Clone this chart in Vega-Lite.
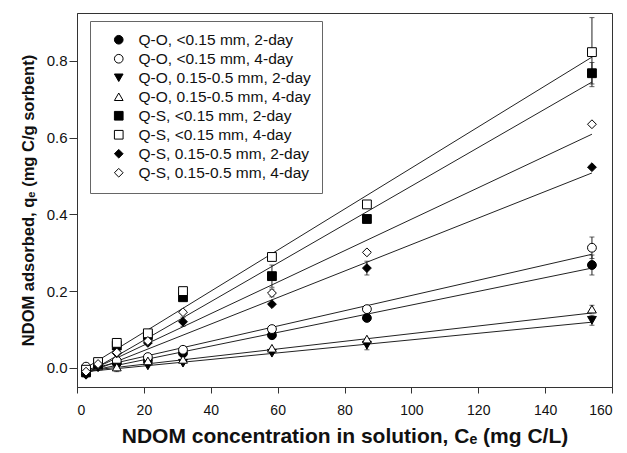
{
  "$schema": "https://vega.github.io/schema/vega-lite/v6.json",
  "width": 535,
  "height": 374,
  "autosize": {"type": "none"},
  "padding": {"left": 77, "top": 13, "right": 15, "bottom": 66},
  "background": "white",
  "config": {
    "view": {"stroke": "#333", "strokeWidth": 1},
    "font": "Liberation Sans",
    "axis": {
      "grid": false,
      "labelFont": "Liberation Sans",
      "labelColor": "#111",
      "tickColor": "#333",
      "domainColor": "#333",
      "titleFont": "Liberation Sans",
      "titleFontWeight": "bold",
      "titleColor": "#111"
    },
    "axisX": {"labelFontSize": 14, "tickSize": 6, "labelPadding": 10, "titleFontSize": 21, "titlePadding": 8},
    "axisY": {"labelFontSize": 15, "tickSize": 8, "labelPadding": 2, "titleFontSize": 16.5, "titlePadding": 10},
    "legend": {
      "orient": "none",
      "legendX": 13,
      "legendY": 8,
      "padding": 11,
      "symbolOffset": 10,
      "labelOffset": 12,
      "rowPadding": 2,
      "labelFont": "Liberation Sans",
      "labelFontSize": 15.5,
      "labelColor": "#111",
      "strokeColor": "#666",
      "fillColor": "white",
      "symbolSize": 75,
      "symbolStrokeWidth": 1,
      "labelLimit": 300
    }
  },
  "datasets": {
    "pts": [
      {"series": "Q-O, <0.15 mm, 2-day", "x": 2.7, "y": -0.01},
      {"series": "Q-O, <0.15 mm, 2-day", "x": 6.3, "y": 0.005},
      {"series": "Q-O, <0.15 mm, 2-day", "x": 11.9, "y": 0.012},
      {"series": "Q-O, <0.15 mm, 2-day", "x": 21.2, "y": 0.02},
      {"series": "Q-O, <0.15 mm, 2-day", "x": 31.7, "y": 0.038},
      {"series": "Q-O, <0.15 mm, 2-day", "x": 58.3, "y": 0.085},
      {"series": "Q-O, <0.15 mm, 2-day", "x": 86.7, "y": 0.13},
      {"series": "Q-O, <0.15 mm, 2-day", "x": 154, "y": 0.268, "lo": 0.242, "hi": 0.294},
      {"series": "Q-O, <0.15 mm, 4-day", "x": 2.7, "y": 0.003},
      {"series": "Q-O, <0.15 mm, 4-day", "x": 6.3, "y": 0.012},
      {"series": "Q-O, <0.15 mm, 4-day", "x": 11.9, "y": 0.018},
      {"series": "Q-O, <0.15 mm, 4-day", "x": 21.2, "y": 0.028},
      {"series": "Q-O, <0.15 mm, 4-day", "x": 31.7, "y": 0.047},
      {"series": "Q-O, <0.15 mm, 4-day", "x": 58.3, "y": 0.101},
      {"series": "Q-O, <0.15 mm, 4-day", "x": 86.7, "y": 0.153},
      {"series": "Q-O, <0.15 mm, 4-day", "x": 154, "y": 0.313, "lo": 0.285, "hi": 0.341},
      {"series": "Q-O, 0.15-0.5 mm, 2-day", "x": 2.7, "y": -0.015},
      {"series": "Q-O, 0.15-0.5 mm, 2-day", "x": 6.3, "y": 0.0},
      {"series": "Q-O, 0.15-0.5 mm, 2-day", "x": 11.9, "y": 0.002},
      {"series": "Q-O, 0.15-0.5 mm, 2-day", "x": 21.2, "y": 0.005},
      {"series": "Q-O, 0.15-0.5 mm, 2-day", "x": 31.7, "y": 0.012},
      {"series": "Q-O, 0.15-0.5 mm, 2-day", "x": 58.3, "y": 0.038},
      {"series": "Q-O, 0.15-0.5 mm, 2-day", "x": 86.7, "y": 0.059, "lo": 0.047, "hi": 0.071},
      {"series": "Q-O, 0.15-0.5 mm, 2-day", "x": 154, "y": 0.124, "lo": 0.111, "hi": 0.137},
      {"series": "Q-O, 0.15-0.5 mm, 4-day", "x": 2.7, "y": -0.008},
      {"series": "Q-O, 0.15-0.5 mm, 4-day", "x": 6.3, "y": 0.005},
      {"series": "Q-O, 0.15-0.5 mm, 4-day", "x": 11.9, "y": 0.002, "lo": -0.01, "hi": 0.014},
      {"series": "Q-O, 0.15-0.5 mm, 4-day", "x": 21.2, "y": 0.018},
      {"series": "Q-O, 0.15-0.5 mm, 4-day", "x": 31.7, "y": 0.022},
      {"series": "Q-O, 0.15-0.5 mm, 4-day", "x": 58.3, "y": 0.051},
      {"series": "Q-O, 0.15-0.5 mm, 4-day", "x": 86.7, "y": 0.075},
      {"series": "Q-O, 0.15-0.5 mm, 4-day", "x": 154, "y": 0.153, "lo": 0.143, "hi": 0.163},
      {"series": "Q-S, <0.15 mm, 2-day", "x": 2.7, "y": -0.012},
      {"series": "Q-S, <0.15 mm, 2-day", "x": 6.3, "y": 0.01},
      {"series": "Q-S, <0.15 mm, 2-day", "x": 11.9, "y": 0.058},
      {"series": "Q-S, <0.15 mm, 2-day", "x": 21.2, "y": 0.085},
      {"series": "Q-S, <0.15 mm, 2-day", "x": 31.7, "y": 0.184},
      {"series": "Q-S, <0.15 mm, 2-day", "x": 58.3, "y": 0.239, "lo": 0.21, "hi": 0.268},
      {"series": "Q-S, <0.15 mm, 2-day", "x": 86.7, "y": 0.388},
      {"series": "Q-S, <0.15 mm, 2-day", "x": 154, "y": 0.768, "lo": 0.74, "hi": 0.796},
      {"series": "Q-S, <0.15 mm, 4-day", "x": 2.7, "y": -0.005},
      {"series": "Q-S, <0.15 mm, 4-day", "x": 6.3, "y": 0.015},
      {"series": "Q-S, <0.15 mm, 4-day", "x": 11.9, "y": 0.065},
      {"series": "Q-S, <0.15 mm, 4-day", "x": 21.2, "y": 0.09},
      {"series": "Q-S, <0.15 mm, 4-day", "x": 31.7, "y": 0.2},
      {"series": "Q-S, <0.15 mm, 4-day", "x": 58.3, "y": 0.289},
      {"series": "Q-S, <0.15 mm, 4-day", "x": 86.7, "y": 0.426},
      {"series": "Q-S, <0.15 mm, 4-day", "x": 154, "y": 0.823, "lo": 0.733, "hi": 0.913},
      {"series": "Q-S, 0.15-0.5 mm, 2-day", "x": 2.7, "y": -0.018},
      {"series": "Q-S, 0.15-0.5 mm, 2-day", "x": 6.3, "y": 0.005},
      {"series": "Q-S, 0.15-0.5 mm, 2-day", "x": 11.9, "y": 0.038},
      {"series": "Q-S, 0.15-0.5 mm, 2-day", "x": 21.2, "y": 0.065},
      {"series": "Q-S, 0.15-0.5 mm, 2-day", "x": 31.7, "y": 0.12, "lo": 0.108, "hi": 0.132},
      {"series": "Q-S, 0.15-0.5 mm, 2-day", "x": 58.3, "y": 0.166},
      {"series": "Q-S, 0.15-0.5 mm, 2-day", "x": 86.7, "y": 0.26, "lo": 0.242, "hi": 0.278},
      {"series": "Q-S, 0.15-0.5 mm, 2-day", "x": 154, "y": 0.523},
      {"series": "Q-S, 0.15-0.5 mm, 4-day", "x": 2.7, "y": -0.01},
      {"series": "Q-S, 0.15-0.5 mm, 4-day", "x": 6.3, "y": 0.01},
      {"series": "Q-S, 0.15-0.5 mm, 4-day", "x": 11.9, "y": 0.04},
      {"series": "Q-S, 0.15-0.5 mm, 4-day", "x": 21.2, "y": 0.07},
      {"series": "Q-S, 0.15-0.5 mm, 4-day", "x": 31.7, "y": 0.145},
      {"series": "Q-S, 0.15-0.5 mm, 4-day", "x": 58.3, "y": 0.195, "lo": 0.185, "hi": 0.205},
      {"series": "Q-S, 0.15-0.5 mm, 4-day", "x": 86.7, "y": 0.301},
      {"series": "Q-S, 0.15-0.5 mm, 4-day", "x": 154, "y": 0.635}
    ],
    "fits": [
      {"series": "Q-O, <0.15 mm, 2-day", "x": 2.7, "y": -0.01},
      {"series": "Q-O, <0.15 mm, 2-day", "x": 154, "y": 0.26},
      {"series": "Q-O, <0.15 mm, 4-day", "x": 2.7, "y": -0.005},
      {"series": "Q-O, <0.15 mm, 4-day", "x": 154, "y": 0.296},
      {"series": "Q-O, 0.15-0.5 mm, 2-day", "x": 2.7, "y": -0.01},
      {"series": "Q-O, 0.15-0.5 mm, 2-day", "x": 154, "y": 0.119},
      {"series": "Q-O, 0.15-0.5 mm, 4-day", "x": 2.7, "y": -0.008},
      {"series": "Q-O, 0.15-0.5 mm, 4-day", "x": 154, "y": 0.143},
      {"series": "Q-S, <0.15 mm, 2-day", "x": 2.7, "y": -0.015},
      {"series": "Q-S, <0.15 mm, 2-day", "x": 154, "y": 0.745},
      {"series": "Q-S, <0.15 mm, 4-day", "x": 2.7, "y": 0.0},
      {"series": "Q-S, <0.15 mm, 4-day", "x": 154, "y": 0.81},
      {"series": "Q-S, 0.15-0.5 mm, 2-day", "x": 2.7, "y": -0.015},
      {"series": "Q-S, 0.15-0.5 mm, 2-day", "x": 154, "y": 0.508},
      {"series": "Q-S, 0.15-0.5 mm, 4-day", "x": 2.7, "y": -0.012},
      {"series": "Q-S, 0.15-0.5 mm, 4-day", "x": 154, "y": 0.609}
    ]
  },
  "layer": [
    {
      "data": {"name": "fits"},
      "mark": {"type": "line", "color": "#222", "strokeWidth": 1},
      "encoding": {
        "x": {"field": "x", "type": "quantitative", "scale": {"domain": [0, 160], "nice": false}, "axis": {"values": [0, 20, 40, 60, 80, 100, 120, 140, 160], "title": "NDOM concentration in solution, Cₑ (mg C/L)"}},
        "y": {"field": "y", "type": "quantitative", "scale": {"domain": [-0.05, 0.925], "nice": false, "zero": false}, "axis": {"values": [0, 0.2, 0.4, 0.6, 0.8], "format": ".1f", "title": "NDOM adsorbed, qₑ (mg C/g sorbent)"}},
        "detail": {"field": "series"}
      }
    },
    {
      "data": {"name": "pts"},
      "transform": [{"filter": "isValid(datum.lo)"}],
      "mark": {"type": "errorbar", "ticks": true, "color": "#222", "thickness": 1},
      "encoding": {
        "x": {"field": "x", "type": "quantitative", "title": "NDOM concentration in solution, Cₑ (mg C/L)"},
        "y": {"field": "lo", "type": "quantitative", "title": "NDOM adsorbed, qₑ (mg C/g sorbent)"},
        "y2": {"field": "hi"}
      }
    },
    {
      "data": {"name": "pts"},
      "mark": {"type": "point", "filled": true, "strokeWidth": 1, "size": 78, "opacity": 1},
      "encoding": {
        "x": {"field": "x", "type": "quantitative", "title": "NDOM concentration in solution, Cₑ (mg C/L)"},
        "y": {"field": "y", "type": "quantitative", "title": "NDOM adsorbed, qₑ (mg C/g sorbent)"},
        "shape": {
          "field": "series", "type": "nominal", "title": null,
          "scale": {
            "domain": ["Q-O, <0.15 mm, 2-day", "Q-O, <0.15 mm, 4-day", "Q-O, 0.15-0.5 mm, 2-day", "Q-O, 0.15-0.5 mm, 4-day", "Q-S, <0.15 mm, 2-day", "Q-S, <0.15 mm, 4-day", "Q-S, 0.15-0.5 mm, 2-day", "Q-S, 0.15-0.5 mm, 4-day"],
            "range": ["circle", "circle", "triangle-down", "triangle-up", "square", "square", "diamond", "diamond"]
          }
        },
        "fill": {
          "field": "series", "type": "nominal", "title": null,
          "scale": {
            "domain": ["Q-O, <0.15 mm, 2-day", "Q-O, <0.15 mm, 4-day", "Q-O, 0.15-0.5 mm, 2-day", "Q-O, 0.15-0.5 mm, 4-day", "Q-S, <0.15 mm, 2-day", "Q-S, <0.15 mm, 4-day", "Q-S, 0.15-0.5 mm, 2-day", "Q-S, 0.15-0.5 mm, 4-day"],
            "range": ["black", "white", "black", "white", "black", "white", "black", "white"]
          }
        },
        "stroke": {
          "field": "series", "type": "nominal", "title": null,
          "scale": {
            "domain": ["Q-O, <0.15 mm, 2-day", "Q-O, <0.15 mm, 4-day", "Q-O, 0.15-0.5 mm, 2-day", "Q-O, 0.15-0.5 mm, 4-day", "Q-S, <0.15 mm, 2-day", "Q-S, <0.15 mm, 4-day", "Q-S, 0.15-0.5 mm, 2-day", "Q-S, 0.15-0.5 mm, 4-day"],
            "range": ["black", "black", "black", "black", "black", "black", "black", "black"]
          }
        }
      }
    }
  ]
}
